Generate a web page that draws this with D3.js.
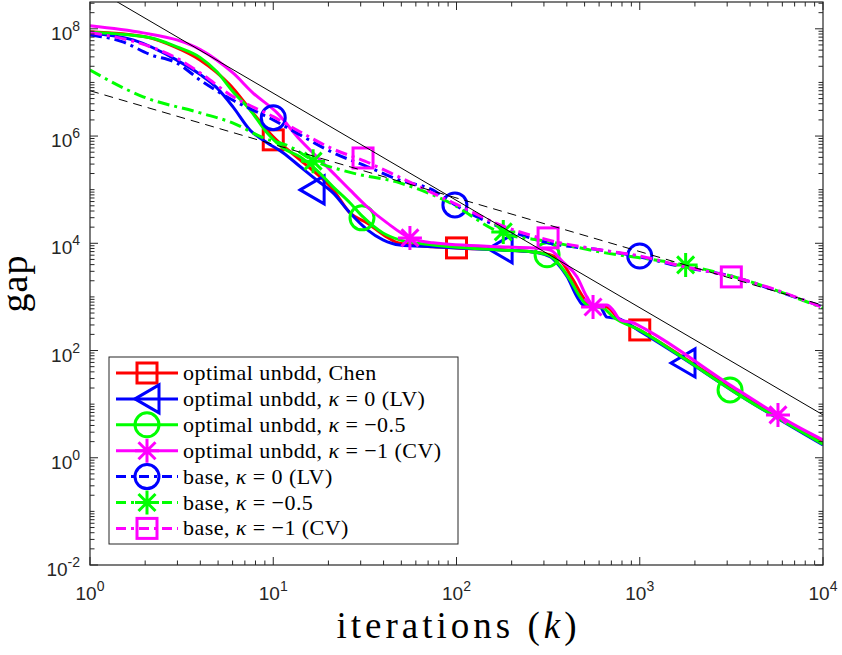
<!DOCTYPE html>
<html>
<head>
<meta charset="utf-8">
<script src="https://cdn.jsdelivr.net/npm/d3@7"></script>
<style>
  body { margin: 0; background: #fff; }
  svg { display: block; }
</style>
</head>
<body>
<div id="container"></div>
<script>
// gap vs iterations [k, gap]
const chenGap = [[1,8.8e7],[2,7.1e7],[2.9,4.6e7],[4,2.6e7],[5.8,9.0e6],[7.5,3.1e6],[10,9.7e5],[14,3.6e5],
    [21.2,1.0e5],[26.2,3.7e4],[32.5,2.4e4],[41.8,1.3e4],[49,1.0e4],[74.5,8.6e3],[100,8.2e3],[261,6.9e3],
    [324,6.1e3],[367,4.9e3],[432,2.1e3],[490,1.0e3],[535,7.1e2],[663,6.5e2],[751,4.2e2],[1000,2.4e2],
    [1722,76],[3230,18.4],[1e4,1.9]];
const lvGap = [[1,8.4e7],[1.72,6.2e7],[2.98,2.6e7],[4,1.4e7],[4.93,7.9e6],[6.03,3.5e6],[7.46,1.3e6],[9.25,7.5e5],
    [11.3,4.9e5],[14,2.7e5],[17.3,1.5e5],[21.2,8.7e4],[26.2,3.7e4],[32.5,1.8e4],[39.7,1.16e4],[49,9.3e3],
    [74.5,8.6e3],[173,7.5e3],[261,6.9e3],[324,5.6e3],[353,4.3e3],[401,2.4e3],[455,1.0e3],[490,7.1e2],
    [607,6.5e2],[662,4.2e2],[752,4.0e2],[1000,2.3e2],[1722,72],[3230,17.5],[1e4,1.73]];
const halfGap = [[1,8.6e7],[2.13,6.8e7],[2.98,4.6e7],[4,2.9e7],[4.93,1.58e7],[6.03,6.7e6],[7.46,3.1e6],
    [9.25,1.15e6],[11.3,6.0e5],[14,4.1e5],[17.3,2.3e5],[21.2,1.13e5],[26.2,5.7e4],[30.9,3.1e4],[39.7,1.56e4],
    [49,1.16e4],[74.5,9.3e3],[173,7.5e3],[261,6.9e3],[324,5.8e3],[353,4.5e3],[416,2.1e3],[472,1.0e3],
    [515,7.1e2],[632,6.2e2],[718,4.2e2],[1000,2.4e2],[1722,73],[3230,17.5],[1e4,1.8]];
const cvGap = [[1,1.14e8],[1.95,8.4e7],[2.98,6.2e7],[4,4.1e7],[4.93,2.6e7],[6.03,1.5e7],[7.74,6.4e6],
    [10.5,2.7e6],[14,8.5e5],[17.3,4.1e5],[21.2,2.06e5],[26.2,9.9e4],[32.5,4.8e4],[41.8,2.4e4],[55.7,1.26e4],
    [74.5,1.02e4],[173,8.6e3],[261,8.2e3],[324,7.5e3],[380,4.5e3],[455,2.36e3],[515,1.0e3],[556,7.1e2],
    [662,7.1e2],[714,5.7e2],[785,3.7e2],[918,3.3e2],[1096,2.4e2],[3230,21],[7480,3.6],[1e4,2.15]];
const baseLvGap = [[1,7.7e7],[1.51,5.7e7],[2.13,3.3e7],[2.98,2.3e7],[4,1.1e7],[6,4.7e6],[10,2.0e6],[14,1.05e6],
    [21.2,4.9e5],[32.5,2.7e5],[49,1.5e5],[74,9.9e4],[100,5.0e4],[173,2.0e4],[324,1.0e4],[609,7.5e3],
    [1000,5.6e3],[1722,3.6e3],[3230,2.4e3],[4920,1.5e3],[1e4,6.5e2]];
const baseHalfGap = [[1,1.7e7],[1.95,5.4e6],[4,2.7e6],[6,1.76e6],[8.8,9.3e5],[12.4,6.3e5],[16.3,3.6e5],
    [26.3,2.1e5],[49,1.34e5],[92,5.7e4],[173,1.6e4],[324,1.07e4],[609,6.9e3],[1722,4.0e3],[3230,2.4e3],
    [1e4,6.2e2]];
const baseCvGap = [[1,8.5e7],[2,5.0e7],[3,2.8e7],[4,1.5e7],[6,5.5e6],[10,2.3e6],[14,1.2e6],[21,5.8e5],
    [31.6,3.4e5],[49,1.7e5],[100,5.3e4],[173,2.2e4],[316,1.15e4],[600,7.6e3],[1000,5.8e3],[1722,3.7e3],
    [3162,2.4e3],[4920,1.55e3],[1e4,6.3e2]];

// marker positions [k, gap]
const chenMarks = [[10,8.5e5],[100,8.2e3],[1000,2.42e2]];
const lvMarks = [[16.3,9.9e4],[173,7.9e3],[1722,58.7]];
const halfMarks = [[30.5,2.98e4],[312,6.1e3],[3110,18.4]];
const cvMarks = [[55.7,1.26e4],[556,650],[5680,6.3]];
const baseLvMarks = [[10,2.2e6],[98,5.2e4],[1000,5.8e3]];
const baseHalfMarks = [[16.5,3.4e5],[180,1.63e4],[1780,3.95e3]];
const baseCvMarks = [[30.9,3.9e5],[316,1.26e4],[3160,2.36e3]];

// black reference lines (C/k^2 and C/k)
const refFast = [[1,6.3e8],[1e4,6.3]];
const refSlow = [[1,7.0e6],[1e4,7.0e2]];

const legendLabels = ["optimal unbdd, Chen", "optimal unbdd, κ = 0 (LV)", "optimal unbdd, κ = −0.5",
    "optimal unbdd, κ = −1 (CV)", "base, κ = 0 (LV)", "base, κ = −0.5", "base, κ = −1 (CV)"];

const xTicks = [1, 10, 100, 1000, 10000];
const yTicks = [1e-2, 1, 1e2, 1e4, 1e6, 1e8];

const series = [
    {data: chenGap, marks: chenMarks, color: "#ff0000", dash: null, shape: "square"},
    {data: lvGap, marks: lvMarks, color: "#0000ff", dash: null, shape: "triangle"},
    {data: halfGap, marks: halfMarks, color: "#00ff00", dash: null, shape: "circle"},
    {data: cvGap, marks: cvMarks, color: "#ff00ff", dash: null, shape: "star"},
    {data: baseLvGap, marks: baseLvMarks, color: "#0000ff", dash: "12,5,3,5", shape: "circle"},
    {data: baseHalfGap, marks: baseHalfMarks, color: "#00ff00", dash: "12,5,3,5", shape: "star"},
    {data: baseCvGap, marks: baseCvMarks, color: "#ff00ff", dash: "12,5,3,5", shape: "square"}
];

const width = 842, height = 655;
const L = 90, R = 823, T = 2, B = 565;
const axisColor = "#262626";

const svg = d3.select('#container').append('svg')
    .attr('width', width)
    .attr('height', height);

const x = d3.scaleLog().domain([1, 1e4]).range([L, R]);
const y = d3.scaleLog().domain([1e-2, Math.pow(10, 8.5)]).range([B, T]);

svg.append("defs").append("clipPath").attr("id", "plotclip")
    .append("rect").attr("x", L).attr("y", T).attr("width", R - L).attr("height", B - T);

const plot = svg.append("g").attr("clip-path", "url(#plotclip)");

const line = d3.line()
    .x(d => x(d[0]))
    .y(d => y(d[1]))
    .curve(d3.curveMonotoneX);

function drawMarker(g, shape, cx, cy, color) {
    const m = g.append("g").attr("transform", `translate(${cx},${cy})`)
        .attr("fill", "none").attr("stroke", color).attr("stroke-width", 3);
    if (shape === "square") {
        m.append("rect").attr("x", -10).attr("y", -10).attr("width", 20).attr("height", 20);
    } else if (shape === "circle") {
        m.append("circle").attr("r", 12);
    } else if (shape === "triangle") {
        m.append("path").attr("d", "M-12,0L12,-14L12,14Z").attr("stroke-linejoin", "miter");
    } else if (shape === "star") {
        m.append("path").attr("d", "M-12,0H12M0,-12V12M-8.5,-8.5L8.5,8.5M-8.5,8.5L8.5,-8.5");
    }
}

series.forEach(s => {
    plot.append("path")
        .datum(s.data)
        .attr("d", line)
        .attr("fill", "none")
        .attr("stroke", s.color)
        .attr("stroke-width", 3)
        .attr("stroke-dasharray", s.dash);
    s.marks.forEach(p => drawMarker(plot, s.shape, x(p[0]), y(p[1]), s.color));
});

// reference lines
plot.append("path").datum(refFast).attr("d", d3.line().x(d => x(d[0])).y(d => y(d[1])))
    .attr("fill", "none").attr("stroke", "#000").attr("stroke-width", 1);
plot.append("path").datum(refSlow).attr("d", d3.line().x(d => x(d[0])).y(d => y(d[1])))
    .attr("fill", "none").attr("stroke", "#000").attr("stroke-width", 1)
    .attr("stroke-dasharray", "9,6");

// axes box + ticks
const axes = svg.append("g").attr("stroke", axisColor).attr("fill", "none");
axes.append("rect").attr("x", L).attr("y", T).attr("width", R - L).attr("height", B - T)
    .attr("stroke-width", 1.2);

const xMinor = [], yMinor = [];
for (let e = 0; e < 4; e++) for (let m = 2; m <= 9; m++) xMinor.push(m * Math.pow(10, e));
for (let e = -2; e <= 8; e++) for (let m = 1; m <= 9; m++) {
    const v = m * Math.pow(10, e);
    if (v <= Math.pow(10, 8.5) && !yTicks.includes(v)) yMinor.push(v);
}

xTicks.forEach(v => {
    axes.append("line").attr("x1", x(v)).attr("x2", x(v)).attr("y1", B).attr("y2", B - 8);
    axes.append("line").attr("x1", x(v)).attr("x2", x(v)).attr("y1", T).attr("y2", T + 8);
});
xMinor.forEach(v => {
    axes.append("line").attr("x1", x(v)).attr("x2", x(v)).attr("y1", B).attr("y2", B - 4.5);
    axes.append("line").attr("x1", x(v)).attr("x2", x(v)).attr("y1", T).attr("y2", T + 4.5);
});
yTicks.forEach(v => {
    axes.append("line").attr("x1", L).attr("x2", L + 8).attr("y1", y(v)).attr("y2", y(v));
    axes.append("line").attr("x1", R).attr("x2", R - 8).attr("y1", y(v)).attr("y2", y(v));
});
yMinor.forEach(v => {
    axes.append("line").attr("x1", L).attr("x2", L + 4.5).attr("y1", y(v)).attr("y2", y(v));
    axes.append("line").attr("x1", R).attr("x2", R - 4.5).attr("y1", y(v)).attr("y2", y(v));
});

// tick labels
const tickFont = "'Liberation Sans', Arial, sans-serif";
xTicks.forEach(v => {
    const t = svg.append("text")
        .attr("x", x(v)).attr("y", 600)
        .attr("text-anchor", "middle")
        .attr("font-family", tickFont).attr("font-size", 19).attr("fill", axisColor);
    t.append("tspan").text("10");
    t.append("tspan").attr("dy", -9).attr("font-size", 14).text(Math.round(Math.log10(v)));
});
yTicks.forEach(v => {
    const t = svg.append("text")
        .attr("x", 80).attr("y", y(v) + 11)
        .attr("text-anchor", "end")
        .attr("font-family", tickFont).attr("font-size", 19).attr("fill", axisColor);
    t.append("tspan").text("10");
    t.append("tspan").attr("dy", -9).attr("font-size", 14).text(Math.round(Math.log10(v)));
});

// axis titles
const serif = "'Liberation Serif', 'Times New Roman', serif";
const xt = svg.append("text")
    .attr("x", (L + R) / 2).attr("y", 638)
    .attr("text-anchor", "middle")
    .attr("font-family", serif).attr("font-size", 37).attr("fill", "#000")
    .attr("textLength", 240).attr("lengthAdjust", "spacing");
xt.append("tspan").text("iterations (");
xt.append("tspan").attr("font-style", "italic").text("k");
xt.append("tspan").text(")");

svg.append("text")
    .attr("transform", `translate(27,${(T + B) / 2}) rotate(-90)`)
    .attr("text-anchor", "middle")
    .attr("font-family", serif).attr("font-size", 38).attr("fill", "#000")
    .attr("letter-spacing", 1)
    .text("gap");

// legend
const legend = svg.append("g");
legend.append("rect")
    .attr("x", 109).attr("y", 357).attr("width", 349).attr("height", 187)
    .attr("fill", "#fff").attr("stroke", axisColor).attr("stroke-width", 1);

series.forEach((s, i) => {
    const ly = 373 + i * 25.9;
    legend.append("line")
        .attr("x1", 116).attr("x2", 178).attr("y1", ly).attr("y2", ly)
        .attr("stroke", s.color).attr("stroke-width", 3)
        .attr("stroke-dasharray", s.dash ? "10,5,3,5" : null);
    drawMarker(legend, s.shape, 147, ly, s.color);
    const parts = legendLabels[i].split("κ");
    const t = legend.append("text")
        .attr("x", 183).attr("y", ly + 7)
        .attr("font-family", serif).attr("font-size", 22).attr("fill", "#000")
        .attr("letter-spacing", 0.45);
    t.append("tspan").text(parts[0]);
    if (parts.length > 1) {
        t.append("tspan").attr("font-style", "italic").text("κ");
        t.append("tspan").text(parts[1]);
    }
});
</script>
</body>
</html>
